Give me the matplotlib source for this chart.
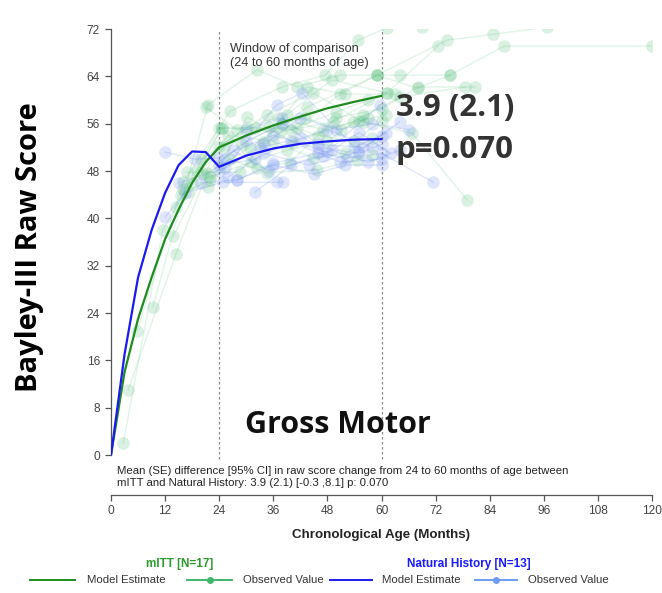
import matplotlib
matplotlib.use("Agg")
import matplotlib.pyplot as plt
from matplotlib.lines import Line2D

plt.rcParams["font.family"] = ["Liberation Sans", "DejaVu Sans"]

# 模型估計 (months, raw score)
model_months = [0, 3, 6, 9, 12, 15, 18, 21, 24, 30, 36, 42, 48, 54, 60]
mitt_model = [0, 14, 23, 30, 36.5, 41.5, 46, 49.5, 52, 54, 55.7, 57.2, 58.6, 59.7, 60.7]
nh_model = [0, 17, 30, 38, 44.3, 49, 51.3, 51.2, 48.7, 50.6, 51.8, 52.6, 53.0, 53.3, 53.4]

# mITT 個別受試者觀察值
mitt_obs = [
    ([2.7, 11.5, 24.6, 37.5, 49.2, 61.2], [2, 38, 55.3, 54.6, 56.3, 61.2]),
    ([3.8, 14.4, 21.3, 30.8, 43.5, 59.0, 64.1, 75.2, 87.2, 120], [11, 34, 47.7, 51.9, 58.8, 64.2, 64.2, 64.2, 69.1, 69.1]),
    ([5.8, 16.0, 26.4, 37.9, 47.5, 54.8, 61.2, 69.0], [21, 46.1, 58.1, 62.2, 64.2, 70.1, 72.2, 72.3]),
    ([9.3, 21.5, 32.4, 41.3, 50.8, 59.0, 74.5, 84.7, 96.7], [25, 59.2, 65.1, 62.2, 64.2, 64.2, 70.1, 71.1, 72.3]),
    ([13.8, 24.0, 34.6, 44.8, 55.9, 66.8, 79.0], [37, 52.2, 57.5, 61.2, 56.3, 54.4, 43.1]),
    ([16.9, 28.6, 39.0, 49.0, 61.2, 72.5], [47.8, 47.8, 57.5, 63.4, 61.2, 69.1]),
    ([21.5, 30.2, 40.4, 53.7, 64.1, 78.5], [45.3, 57.1, 52.9, 56.3, 60.5, 62.2]),
    ([17.0, 24.6, 32.4, 39.7, 50.0, 60.0, 68.0, 80.7], [44.5, 55.3, 48.5, 49.5, 57.0, 58.5, 62.2, 62.2]),
    ([19.0, 26.0, 36.0, 44.8, 52.0, 58.0], [48.0, 54.0, 53.0, 50.2, 51.0, 53.5]),
    ([20.0, 30.2, 40.0, 50.0, 57.0], [50.0, 55.3, 55.0, 58.0, 60.0]),
    ([15.5, 22.0, 33.7, 43.5, 52.0, 63.0], [44.0, 46.5, 52.9, 62.2, 61.0, 61.0]),
    ([18.0, 26.4, 34.6, 45.7, 54.6, 58.0], [46.0, 50.0, 47.7, 48.2, 49.9, 50.7]),
    ([14.5, 24.0, 32.0, 41.3, 50.8, 59.0, 68.0, 75.2], [42.0, 55.3, 55.3, 55.3, 61.0, 64.2, 62.0, 64.2]),
    ([21.0, 28.0, 37.0, 47.0, 55.0, 61.0], [58.8, 55.0, 57.0, 55.0, 56.5, 57.5]),
    ([22.0, 31.0, 39.0, 48.0, 56.0], [47.0, 49.5, 51.5, 53.0, 57.5]),
    ([16.0, 25.0, 35.0, 43.0, 51.0, 57.0], [45.0, 52.0, 55.5, 57.0, 55.0, 57.0]),
    ([20.5, 29.0, 38.0, 46.0, 54.0, 60.0], [47.5, 52.5, 56.0, 54.0, 53.0, 56.5]),
]

# Natural History 個別受試者觀察值
nh_obs = [
    ([12.0, 18.6, 23.7, 35.9, 47.9, 59.7], [51.2, 50.0, 50.2, 54.1, 51.2, 59.2]),
    ([12.0, 16.4, 24.8, 36.8, 38.2], [40.2, 44.3, 46.1, 46.1, 46.1]),
    ([15.0, 25.3, 36.8, 42.4, 54.0, 61.0], [46.0, 48.5, 59.2, 61.2, 52.0, 54.4]),
    ([20.0, 28.0, 35.9, 46.0, 52.4, 60.0, 71.5], [46.0, 46.5, 49.3, 51.0, 50.2, 51.0, 46.1]),
    ([24.0, 32.0, 40.0, 50.8, 60.0], [49.0, 50.0, 53.0, 49.5, 50.0]),
    ([26.0, 34.0, 44.0, 54.8, 64.0], [47.0, 51.0, 49.0, 51.2, 56.3]),
    ([25.0, 30.0, 38.0, 46.0, 55.0, 60.0], [50.0, 53.0, 56.0, 52.0, 51.0, 52.5]),
    ([28.0, 36.0, 45.0, 52.0, 60.0], [46.5, 49.0, 47.5, 49.0, 49.0]),
    ([24.0, 33.0, 42.0, 48.0, 58.0], [48.0, 52.0, 53.5, 55.0, 52.0]),
    ([30.0, 38.0, 46.0, 56.0, 60.0], [55.0, 57.0, 52.5, 52.0, 54.0]),
    ([27.0, 35.0, 47.0, 55.0, 62.0], [51.5, 48.0, 50.5, 54.5, 51.0]),
    ([32.0, 40.0, 49.0, 57.0, 64.0], [44.5, 49.0, 51.5, 49.5, 51.5]),
    ([34.0, 42.0, 50.0, 58.0, 66.0], [52.5, 57.0, 55.0, 56.0, 55.0]),
]

x_ticks = list(range(0, 121, 12))
y_ticks = list(range(0, 73, 8))

GREEN_MODEL = "#1f8a1f"
BLUE_MODEL = "#1a1af0"
GREEN_OBS = "#44b86e"
BLUE_OBS = "#6f8ff0"

W, H = 662, 593
fig = plt.figure(figsize=(W / 100, H / 100), dpi=100)
ax = fig.add_axes([111 / W, 1 - 455 / H, 541 / W, 426 / H])

# 觀察值軌跡
for months, scores in mitt_obs:
    ax.plot(months, scores, color=GREEN_OBS, alpha=0.16, lw=1.0, zorder=2)
    ax.plot(months, scores, "o", color=GREEN_OBS, alpha=0.2, ms=9, mew=0, zorder=2)
for months, scores in nh_obs:
    ax.plot(months, scores, color=BLUE_OBS, alpha=0.22, lw=1.0, zorder=2)
    ax.plot(months, scores, "o", color=BLUE_OBS, alpha=0.22, ms=9, mew=0, zorder=2)

# 模型曲線
ax.plot(model_months, mitt_model, color=GREEN_MODEL, lw=1.6, zorder=4)
ax.plot(model_months, nh_model, color=BLUE_MODEL, lw=1.6, zorder=4)

# 比較窗口
for xv in (24, 60):
    ax.axvline(xv, ymin=-0.01, ymax=1, color="#8a8a8a", lw=0.9,
               linestyle=(0, (2, 2)), zorder=1, clip_on=False)
ax.text(26.5, 69.6, "Window of comparison\n(24 to 60 months of age)",
        fontsize=9.2, color="#333333", va="top", ha="left", linespacing=1.2)

ax.set_xlim(0, 120)
ax.set_ylim(0, 72)
ax.set_xticks(x_ticks)
ax.set_yticks(y_ticks)
ax.spines["top"].set_visible(False)
ax.spines["right"].set_visible(False)
ax.spines["bottom"].set_position(("outward", 40 * 0.72))
for side in ("left", "bottom"):
    ax.spines[side].set_color("#555555")
    ax.spines[side].set_linewidth(0.9)
ax.tick_params(axis="both", direction="out", length=4, width=0.9,
               color="#555555", labelsize=8.6, labelcolor="#444444")
ax.tick_params(axis="y", pad=4)
ax.set_xlabel("Chronological Age (Months)", fontsize=9.6, fontweight="bold",
              color="#222222", labelpad=8)

# 差異說明
fig.text(117 / W, 1 - 477 / H,
         "Mean (SE) difference [95% CI] in raw score change from 24 to 60 months of age between\n"
         "mITT and Natural History: 3.9 (2.1) [-0.3 ,8.1] p: 0.070",
         fontsize=8.2, color="#222222", va="center", ha="left", linespacing=1.35)

big = ["Open Sans", "DejaVu Sans"]
fig.text(30 / W, 1 - 247 / H, "Bayley-III Raw Score", rotation=90,
         fontsize=21, fontweight="bold", family=big, ha="center", va="center")
fig.text(396 / W, 1 - 108 / H, "3.9 (2.1)", fontsize=22.5, fontweight="bold",
         family=big, color="#333333", ha="left", va="center")
fig.text(396 / W, 1 - 150 / H, "p=0.070", fontsize=22.5, fontweight="bold",
         family=big, color="#333333", ha="left", va="center")
fig.text(338 / W, 1 - 425 / H, "Gross Motor", fontsize=22, fontweight="bold",
         family=big, color="#111111", ha="center", va="center")

# 圖例
def legend_line(x0, x1, y, color, marker=False):
    fy = 1 - y / H
    fig.add_artist(Line2D([x0 / W, x1 / W], [fy, fy], color=color, lw=1.4,
                          transform=fig.transFigure))
    if marker:
        fig.add_artist(Line2D([(x0 + x1) / 2 / W], [fy], marker="o", ms=5,
                              color=color, mew=0, transform=fig.transFigure))

def legend_text(x, y, s):
    fig.text(x / W, 1 - y / H, s, fontsize=8.2, color="#333333",
             ha="left", va="center")

fig.text(180 / W, 1 - 564 / H, "mITT [N=17]", fontsize=8.5, fontweight="bold",
         color="#2a9a2a", ha="center", va="center")
fig.text(469 / W, 1 - 564 / H, "Natural History [N=13]", fontsize=8.5,
         fontweight="bold", color="#1a1aff", ha="center", va="center")

legend_line(30, 75, 580, GREEN_MODEL)
legend_text(87, 580, "Model Estimate")
legend_line(187, 232, 580, "#3fb56a", marker=True)
legend_text(243, 580, "Observed Value")
legend_line(330, 372, 580, BLUE_MODEL)
legend_text(382, 580, "Model Estimate")
legend_line(475, 517, 580, "#6e9cf0", marker=True)
legend_text(528, 580, "Observed Value")

fig.savefig("out.png", dpi=100)
